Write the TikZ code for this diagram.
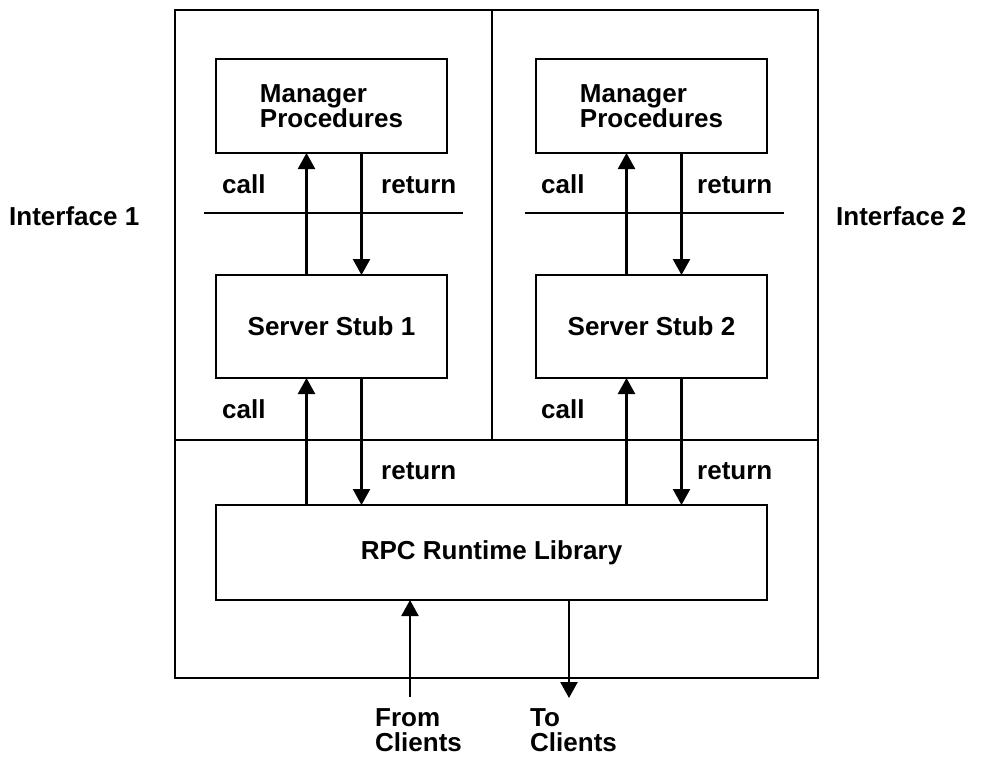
\documentclass[tikz,border=0pt]{standalone}
\usepackage{fontspec}
\setmainfont{Liberation Sans}
\usetikzlibrary{arrows.meta}
\begin{document}
\begin{tikzpicture}[x=1pt,y=-1pt,
  every node/.style={font=\fontsize{26}{23.5}\selectfont\bfseries},
  box/.style={draw,line width=1.9pt,inner sep=0pt,outer sep=0pt},
  lbl/.style={anchor=base west,inner sep=0pt},
  arr/.style={line width=2.4pt,-{Triangle[length=16pt,width=17pt]}},
  rule/.style={line width=1.9pt}]
\useasboundingbox (0,0) rectangle (990,758);

% enclosing frame and its partitions
\node[box,line width=2.6pt,minimum width=643pt,minimum height=668pt] (outer) at (496.5,344) {};
\draw[rule] (492,10) -- (492,440);
\draw[rule] (175,440) -- (818,440);
\draw[rule] (204,213) -- (463,213);
\draw[rule] (525,213) -- (784,213);

% interface 1
\node[box,minimum width=231pt,minimum height=94pt,align=left] (mp1) at (331.5,106) {Manager\\Procedures};
\node[box,minimum width=231pt,minimum height=103pt] (ss1) at (331.5,326.5) {Server Stub 1};

% interface 2
\node[box,minimum width=231pt,minimum height=94pt,align=left] (mp2) at (651.5,106) {Manager\\Procedures};
\node[box,minimum width=231pt,minimum height=103pt] (ss2) at (651.5,326.5) {Server Stub 2};

% runtime library
\node[box,minimum width=551pt,minimum height=95pt] (rpc) at (491.5,552.5) {RPC Runtime Library};

% stub <-> manager
\draw[arr] ([xshift=-25pt]ss1.north) -- ([xshift=-25pt]mp1.south);
\draw[arr] ([xshift=30pt]mp1.south) -- ([xshift=30pt]ss1.north);
\draw[arr] ([xshift=-25pt]ss2.north) -- ([xshift=-25pt]mp2.south);
\draw[arr] ([xshift=30pt]mp2.south) -- ([xshift=30pt]ss2.north);

% runtime <-> stub
\draw[arr] ([xshift=-25pt]ss1.south |- rpc.north) -- ([xshift=-25pt]ss1.south);
\draw[arr] ([xshift=30pt]ss1.south) -- ([xshift=30pt]ss1.south |- rpc.north);
\draw[arr] ([xshift=-25pt]ss2.south |- rpc.north) -- ([xshift=-25pt]ss2.south);
\draw[arr] ([xshift=30pt]ss2.south) -- ([xshift=30pt]ss2.south |- rpc.north);

% clients
\coordinate (fromc) at (410,697);
\coordinate (toc) at (569,698);
\draw[arr] (fromc) -- (fromc |- rpc.south);
\draw[arr] (toc |- rpc.south) -- (toc);

% labels
\node[lbl] (c1) at (222,193) {call};
\node[lbl] (r1) at (381,193) {return};
\node[lbl] (c2) at (541,193) {call};
\node[lbl] (r2) at (697,193) {return};
\node[lbl] (c3) at (222,418) {call};
\node[lbl] (c4) at (541,418) {call};
\node[lbl] (r3) at (381,479) {return};
\node[lbl] (r4) at (697,479) {return};
\node[lbl] (if1) at (9,225) {Interface 1};
\node[lbl] (if2) at (836,225) {Interface 2};
\node[lbl] (fr1) at (375,726) {From};
\node[lbl] (fr2) at (375,751) {Clients};
\node[lbl] (to1) at (530,726) {To};
\node[lbl] (to2) at (530,751) {Clients};
\end{tikzpicture}
\end{document}
